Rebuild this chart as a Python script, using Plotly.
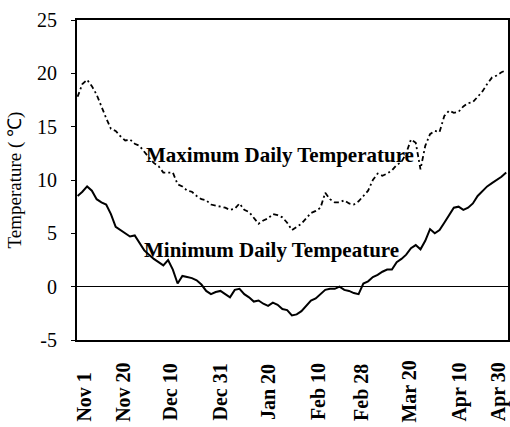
import pandas as pd
import plotly.graph_objects as go

# Day series: every 2 days from Nov 1 to Apr 30
dates = pd.date_range("2000-11-01", periods=91, freq="2D")

max_temp = [17.8, 19.0, 19.4, 18.8, 18.0, 16.8, 15.8, 14.8, 14.6, 14.1,
            13.7, 13.8, 13.4, 13.2, 12.6, 12.1, 11.6, 11.3, 10.7, 10.7,
            10.7, 9.6, 9.4, 9.0, 8.9, 8.5, 8.2, 8.1, 7.7, 7.6,
            7.5, 7.4, 7.2, 7.3, 7.8, 7.2, 7.0, 6.4, 5.9, 6.2,
            6.4, 6.8, 6.7, 6.5, 6.0, 5.3, 5.6, 5.9, 6.4, 6.9,
            7.1, 7.4, 8.8, 8.2, 7.9, 7.9, 8.1, 7.8, 7.7, 8.0,
            8.5, 9.0, 10.0, 10.6, 10.4, 10.6, 10.9, 11.4, 11.7, 12.5,
            13.8, 13.5, 11.0, 13.2, 14.3, 14.6, 14.5, 16.0, 16.5, 16.3,
            16.4, 16.9, 17.2, 17.3, 17.8, 18.3, 19.0, 19.6, 19.8, 20.1,
            20.3]

min_temp = [8.5, 8.9, 9.4, 9.0, 8.2, 7.9, 7.7, 6.8, 5.6, 5.3,
            5.0, 4.7, 4.8, 4.1, 3.4, 3.0, 2.6, 2.3, 2.0, 2.5,
            1.6, 0.3, 1.0, 0.9, 0.8, 0.6, 0.2, -0.4, -0.7, -0.5,
            -0.4, -0.7, -1.0, -0.3, -0.2, -0.7, -1.0, -1.4, -1.3, -1.6,
            -1.8, -1.5, -1.7, -2.1, -2.2, -2.7, -2.6, -2.3, -1.8, -1.3,
            -1.1, -0.7, -0.3, -0.2, -0.2, 0.0, -0.3, -0.4, -0.6, -0.7,
            0.3, 0.5, 0.9, 1.1, 1.4, 1.6, 1.6, 2.3, 2.6, 3.0,
            3.6, 3.9, 3.5, 4.3, 5.4, 5.0, 5.3, 6.0, 6.7, 7.4,
            7.5, 7.2, 7.4, 7.8, 8.5, 9.0, 9.4, 9.7, 10.0, 10.3,
            10.7]

tick_dates = ["2000-11-01", "2000-11-20", "2000-12-10", "2000-12-31", "2001-01-20",
              "2001-02-10", "2001-02-28", "2001-03-20", "2001-04-10", "2001-04-30"]
tick_labels = ["Nov 1\u00a0\u00a0", "Nov 20", "Dec 10", "Dec 31", "Jan 20",
               "Feb 10", "Feb 28", "Mar 20", "Apr 10", "Apr 30"]
y_ticks = [-5, 0, 5, 10, 15, 20, 25]
y_tick_text = ["-5", "0", "5", "10", "15", "20", "25"]

SERIF = "Liberation Serif"

fig = go.Figure()
fig.add_trace(go.Scatter(x=dates, y=max_temp, mode="lines",
                         line=dict(color="black", width=1.8, dash="5px,3px,2px,3px"),
                         name="Maximum Daily Temperature"))
fig.add_trace(go.Scatter(x=dates, y=min_temp, mode="lines",
                         line=dict(color="black", width=2),
                         name="Minimum Daily Tempeature"))

annotations = []
n_ticks = len(tick_dates)
for i, (d, lab) in enumerate(zip(tick_dates, tick_labels)):
    shift = 6 if i == 0 else (-8 if i == n_ticks - 1 else 0)
    annotations.append(dict(x=d, xref="x", y=-0.1625, yref="paper",
                            text="<b>" + lab + "</b>", textangle=-90,
                            xanchor="center", yanchor="middle", showarrow=False,
                            xshift=shift,
                            font=dict(family=SERIF, size=20, color="black")))
annotations.append(dict(x="2001-01-25", y=12.3, xref="x", yref="y",
                        text="<b>Maximum Daily Temperature</b>", showarrow=False,
                        xanchor="center", yanchor="middle",
                        font=dict(family=SERIF, size=21, color="black")))
annotations.append(dict(x="2001-01-21 12:00", y=3.4, xref="x", yref="y",
                        text="<b>Minimum Daily Tempeature</b>", showarrow=False,
                        xanchor="center", yanchor="middle",
                        font=dict(family=SERIF, size=21, color="black")))

fig.update_layout(
    width=510, height=427,
    margin=dict(l=77, r=2, t=20, b=87),
    paper_bgcolor="white", plot_bgcolor="white",
    showlegend=False,
    annotations=annotations,
    xaxis=dict(type="date", range=["2000-10-31 18:00", "2001-04-30 18:00"],
               showticklabels=False, ticks="", showgrid=False,
               showline=True, linecolor="black", linewidth=2, mirror=True,
               zeroline=False, automargin=False),
    yaxis=dict(range=[-5, 25], tickvals=y_ticks, ticktext=y_tick_text,
               ticks="outside", ticklen=4,
               tickcolor="black", tickwidth=1, ticklabelstandoff=10,
               tickfont=dict(family=SERIF, size=20, color="black"),
               showgrid=False, showline=True, linecolor="black", linewidth=2,
               mirror=True, zeroline=True, zerolinecolor="black", zerolinewidth=1,
               automargin=False,
               title=dict(text="Temperature ( ℃)", standoff=10,
                          font=dict(family=SERIF, size=19, color="black"))),
)

fig.write_html("out.html", config={"displayModeBar": False},
               post_script="document.body.style.margin='0';document.body.style.overflow='hidden';")
